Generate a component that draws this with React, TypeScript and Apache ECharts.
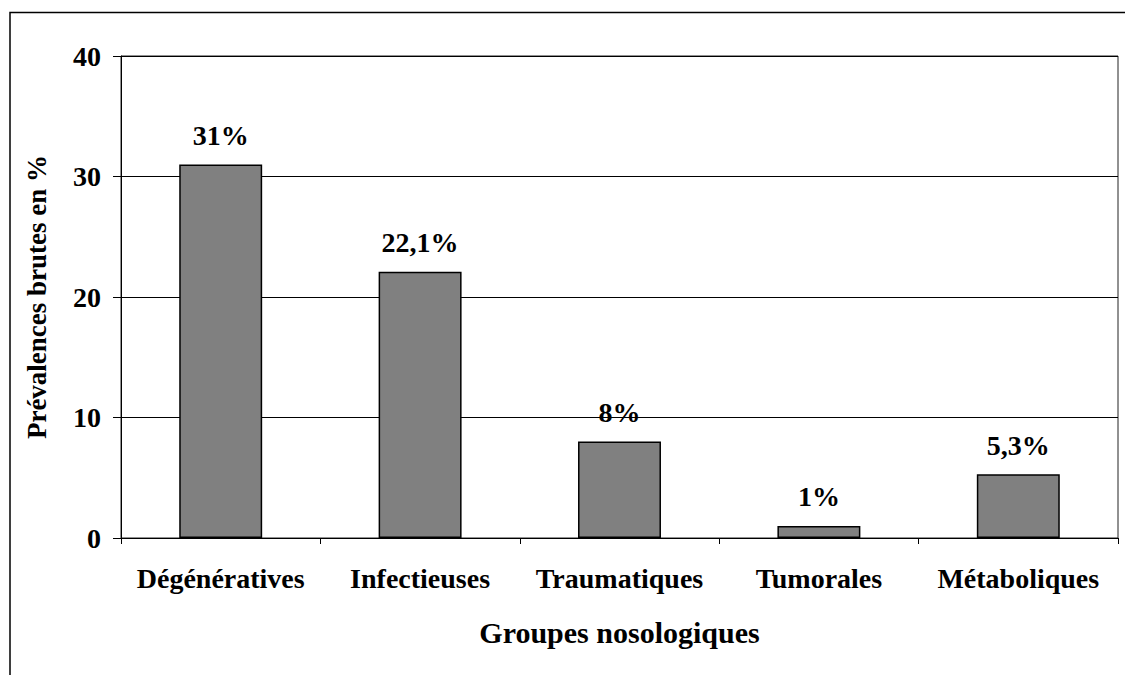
import React, { useEffect, useRef } from "react";
import * as echarts from "echarts";

const categories = ["Dégénératives", "Infectieuses", "Traumatiques", "Tumorales", "Métaboliques"];
const values = [31, 22.1, 8, 1, 5.3];
const valueLabels = ["31%", "22,1%", "8%", "1%", "5,3%"];
const yTicks = [0, 10, 20, 30, 40];

const FONT = "'Liberation Serif', 'Times New Roman', serif";

export default function App() {
  const ref = useRef<HTMLDivElement>(null);
  useEffect(() => {
    document.body.style.margin = "0";
    const chart = echarts.init(ref.current!, null, { renderer: "svg" });
    chart.setOption({
      animation: false,
      backgroundColor: "#fff",
      textStyle: { fontFamily: FONT },
      grid: {
        left: 121,
        right: 7,
        top: 56,
        bottom: 137,
        show: true,
        borderColor: "#222",
        borderWidth: 1,
        backgroundColor: "transparent",
      },
      graphic: [
        {
          type: "polyline",
          shape: { points: [[10, 675], [10, 12.5], [1125, 12.5]] },
          style: { stroke: "#000", lineWidth: 1.5, fill: "none" },
          silent: true,
        },
      ],
      xAxis: {
        type: "category",
        data: categories,
        name: "Groupes nosologiques",
        nameLocation: "middle",
        nameGap: 79,
        nameTextStyle: { fontFamily: FONT, fontWeight: "bold", fontSize: 30, color: "#000" },
        axisLine: { show: true, lineStyle: { color: "#000", width: 1 } },
        axisTick: { show: true, alignWithLabel: false, length: 6, lineStyle: { color: "#000" } },
        axisLabel: {
          interval: 0,
          hideOverlap: false,
          margin: 26,
          fontFamily: FONT,
          fontWeight: "bold",
          fontSize: 28,
          color: "#000",
        },
        splitLine: { show: false },
      },
      yAxis: {
        type: "value",
        min: yTicks[0],
        max: yTicks[yTicks.length - 1],
        interval: 10,
        name: "Prévalences brutes en %",
        nameLocation: "middle",
        nameGap: 71,
        nameRotate: 90,
        nameTextStyle: { fontFamily: FONT, fontWeight: "bold", fontSize: 27, color: "#000" },
        axisLine: { show: true, lineStyle: { color: "#000", width: 1 } },
        axisTick: { show: true, length: 8, lineStyle: { color: "#000" } },
        axisLabel: { margin: 20, fontFamily: FONT, fontWeight: "bold", fontSize: 28, color: "#000" },
        splitLine: { show: true, lineStyle: { color: "#000", width: 1 } },
      },
      series: [
        {
          type: "bar",
          data: values,
          barWidth: "41.6%",
          itemStyle: { color: "#808080", borderColor: "#000", borderWidth: 1.5 },
          label: {
            show: true,
            position: "top",
            distance: 15,
            formatter: (p: any) => valueLabels[p.dataIndex],
            fontFamily: FONT,
            fontWeight: "bold",
            fontSize: 28,
            color: "#000",
          },
        },
      ],
    });
    return () => chart.dispose();
  }, []);
  return <div ref={ref} style={{ width: 1125, height: 675 }} />;
}
